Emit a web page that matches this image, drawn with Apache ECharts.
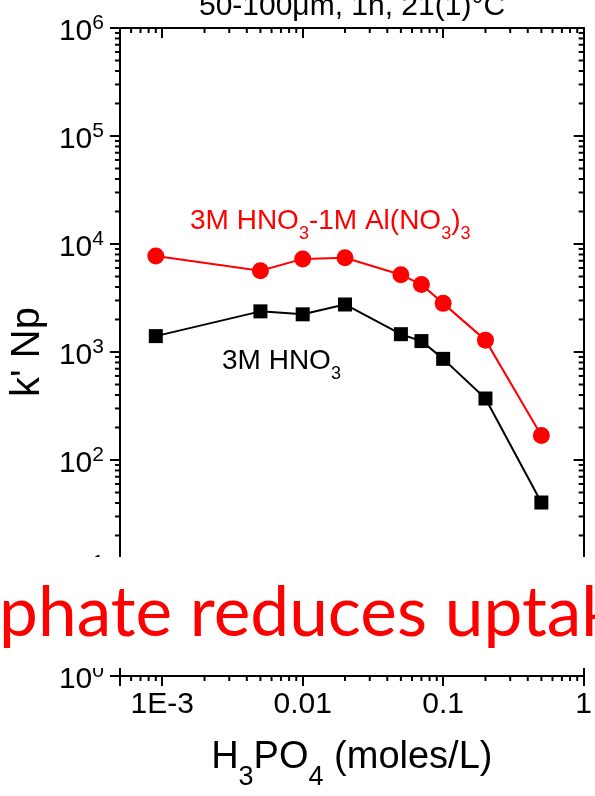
<!DOCTYPE html>
<html>
<head>
<meta charset="utf-8">
<script src="https://cdn.jsdelivr.net/npm/echarts@6/dist/echarts.min.js"></script>
<style>
  html, body { margin: 0; padding: 0; background: #fff; }
  #chart { width: 595px; height: 796px; }
</style>
</head>
<body>
<div id="chart"></div>
<script>
// H3PO4 concentration (moles/L)
const h3po4 = [0.0009, 0.005, 0.01, 0.02, 0.05, 0.07, 0.1, 0.2, 0.5];
// k' Np, 3M HNO3-1M Al(NO3)3
const kAlNitrate = [7760, 5650, 7280, 7450, 5200, 4210, 2820, 1288, 169];
// k' Np, 3M HNO3
const kNitric = [1403, 2378, 2233, 2754, 1462, 1262, 864, 371, 40.4];
// tick labels on the concentration axis, keyed by decade exponent
const xTickLabels = { '-3': '1E-3', '-2': '0.01', '-1': '0.1', '0': '1' };
const xRange = [5e-4, 1];
const yRange = [1, 1e6];
const minorMantissas = [2, 3, 4, 5, 6, 7, 8, 9];

const FONT = "'Liberation Sans', Arial, sans-serif";

function decadeMinors(lo, hi) {
  const out = [];
  for (let e = Math.floor(Math.log10(lo)); e < Math.ceil(Math.log10(hi)); e++) {
    minorMantissas.forEach(m => {
      const v = m * Math.pow(10, e);
      if (v > lo * 1.0001 && v < hi * 0.9999) out.push(v);
    });
  }
  return out;
}
const xMinor = decadeMinors(xRange[0], xRange[1]);
const yMinor = decadeMinors(yRange[0], yRange[1]);

function exponentOf(v) {
  const l = Math.log10(v);
  const e = Math.round(l);
  return Math.abs(l - e) < 1e-6 ? e : null;
}

// size the banner font so the phrase runs across the page width
const measureCtx = document.createElement('canvas').getContext('2d');
function textWidth(t, size, family) {
  measureCtx.font = size + 'px ' + family;
  return measureCtx.measureText(t).width;
}
const bannerFamily = 'Lato';
const bannerSize = 100 * 582 / textWidth('phate reduces upta', 100, bannerFamily);
const bannerX = -textWidth('Phos', bannerSize, bannerFamily) - 1;

const chart = echarts.init(document.getElementById('chart'), null, { renderer: 'canvas' });

chart.setOption({
  animation: false,
  backgroundColor: '#fff',
  textStyle: { fontFamily: FONT },
  grid: { left: 115, right: 5, top: 28, bottom: 114, containLabel: false },
  xAxis: [
    {
      type: 'log', min: xRange[0], max: xRange[1], position: 'bottom',
      axisLine: { show: true, lineStyle: { color: '#000', width: 2 } },
      axisTick: { show: true, inside: false, length: 10, lineStyle: { color: '#000', width: 2 } },
      splitLine: { show: false },
      axisLabel: {
        margin: 14, color: '#000', fontSize: 30, fontFamily: FONT,
        showMinLabel: true, showMaxLabel: true,
        formatter: v => { const e = exponentOf(v); return e === null ? '' : (xTickLabels[String(e)] || ''); }
      },
      name: '{m|H}{s|3}{m|PO}{s|4}{m| (moles/L)}',
      nameLocation: 'middle', nameGap: 63,
      nameTextStyle: {
        color: '#000', fontFamily: FONT,
        rich: {
          m: { fontSize: 38, lineHeight: 38, verticalAlign: 'top', fontFamily: FONT, color: '#000' },
          s: { fontSize: 27, lineHeight: 27, padding: [25, 0, 0, 0], verticalAlign: 'top', fontFamily: FONT, color: '#000' }
        }
      }
    },
    {
      type: 'log', min: xRange[0], max: xRange[1], position: 'top',
      axisLine: { show: true, lineStyle: { color: '#000', width: 2 } },
      axisTick: { show: true, inside: true, length: 10, lineStyle: { color: '#000', width: 2 } },
      axisLabel: { show: false }, splitLine: { show: false }
    }
  ],
  yAxis: [
    {
      type: 'log', min: yRange[0], max: yRange[1], splitNumber: 6, position: 'left',
      axisLine: { show: true, lineStyle: { color: '#000', width: 2 } },
      axisTick: { show: true, inside: false, length: 10, lineStyle: { color: '#000', width: 2 } },
      splitLine: { show: false },
      axisLabel: {
        margin: 16, color: '#000', fontFamily: FONT,
        formatter: v => { const e = exponentOf(v); return e === null ? '' : '{b|10}{p|' + e + '}'; },
        rich: {
          b: { fontSize: 30, lineHeight: 30, padding: [4, 0, 0, 0], verticalAlign: 'top', fontFamily: FONT, color: '#000' },
          p: { fontSize: 21, lineHeight: 21, verticalAlign: 'top', fontFamily: FONT, color: '#000' }
        }
      },
      name: "k' Np", nameLocation: 'middle', nameGap: 57,
      nameTextStyle: { color: '#000', fontSize: 40, fontFamily: FONT }
    },
    {
      type: 'log', min: yRange[0], max: yRange[1], splitNumber: 6, position: 'right',
      axisLine: { show: true, lineStyle: { color: '#000', width: 2 } },
      axisTick: { show: true, inside: true, length: 10, lineStyle: { color: '#000', width: 2 } },
      axisLabel: { show: false }, splitLine: { show: false }
    }
  ],
  series: [
    {
      name: '3M HNO3',
      type: 'line', xAxisIndex: 0, yAxisIndex: 0,
      data: h3po4.map((x, i) => [x, kNitric[i]]),
      symbol: 'rect', symbolSize: 14,
      itemStyle: { color: '#000' },
      lineStyle: { color: '#000', width: 2 },
      z: 3
    },
    {
      name: '3M HNO3-1M Al(NO3)3',
      type: 'line', xAxisIndex: 0, yAxisIndex: 0,
      data: h3po4.map((x, i) => [x, kAlNitrate[i]]),
      symbol: 'circle', symbolSize: 17,
      itemStyle: { color: '#ff0000' },
      lineStyle: { color: '#ff0000', width: 2 },
      z: 3
    },
    {
      // minor ticks on the bottom (outward) and top (inward) concentration axes
      type: 'custom', xAxisIndex: 0, yAxisIndex: 0, silent: true, clip: false,
      data: xMinor.map(v => [v, yRange[0]]),
      renderItem: (params, api) => {
        const v = api.value(0);
        const b = api.coord([v, yRange[0]]);
        const t = api.coord([v, yRange[1]]);
        const st = { stroke: '#000', lineWidth: 2 };
        return { type: 'group', children: [
          { type: 'line', shape: { x1: b[0], y1: b[1], x2: b[0], y2: b[1] + 5 }, style: st },
          { type: 'line', shape: { x1: t[0], y1: t[1], x2: t[0], y2: t[1] + 5 }, style: st }
        ] };
      }
    },
    {
      // minor ticks on the left (outward) and right (inward) k' axes
      type: 'custom', xAxisIndex: 0, yAxisIndex: 0, silent: true, clip: false,
      data: yMinor.map(v => [xRange[0], v]),
      renderItem: (params, api) => {
        const v = api.value(1);
        const l = api.coord([xRange[0], v]);
        const r = api.coord([xRange[1], v]);
        const st = { stroke: '#000', lineWidth: 2 };
        return { type: 'group', children: [
          { type: 'line', shape: { x1: l[0] - 5, y1: l[1], x2: l[0], y2: l[1] }, style: st },
          { type: 'line', shape: { x1: r[0] - 5, y1: r[1], x2: r[0], y2: r[1] }, style: st }
        ] };
      }
    }
  ],
  graphic: [
    {
      type: 'text', x: 352, y: 7, z: 50,
      style: { text: '50-100μm, 1h, 21(1)°C', fill: '#000', font: '30px ' + FONT, align: 'center', verticalAlign: 'middle' }
    },
    {
      type: 'text', x: 190, y: 207, z: 50,
      style: {
        text: '{m|3M HNO}{s|3}{m|-1M Al(NO}{s|3}{m|)}{s|3}',
        align: 'left', verticalAlign: 'top',
        rich: {
          m: { fontSize: 28, lineHeight: 28, verticalAlign: 'top', fontFamily: FONT, fill: '#ff0000' },
          s: { fontSize: 18, lineHeight: 18, padding: [18, 0, 0, 0], verticalAlign: 'top', fontFamily: FONT, fill: '#ff0000' }
        }
      }
    },
    {
      type: 'text', x: 222, y: 347, z: 50,
      style: {
        text: '{m|3M HNO}{s|3}',
        align: 'left', verticalAlign: 'top',
        rich: {
          m: { fontSize: 28, lineHeight: 28, verticalAlign: 'top', fontFamily: FONT, fill: '#000' },
          s: { fontSize: 18, lineHeight: 18, padding: [18, 0, 0, 0], verticalAlign: 'top', fontFamily: FONT, fill: '#000' }
        }
      }
    },
    {
      type: 'rect', z: 100,
      shape: { x: 0, y: 557, width: 595, height: 111 },
      style: { fill: '#fff' }
    },
    {
      type: 'text', x: bannerX, y: 614, z: 101,
      style: {
        text: 'Phosphate reduces uptake', fill: '#ff0000',
        font: bannerSize.toFixed(1) + 'px ' + bannerFamily,
        align: 'left', verticalAlign: 'middle'
      }
    }
  ]
});
</script>
</body>
</html>
